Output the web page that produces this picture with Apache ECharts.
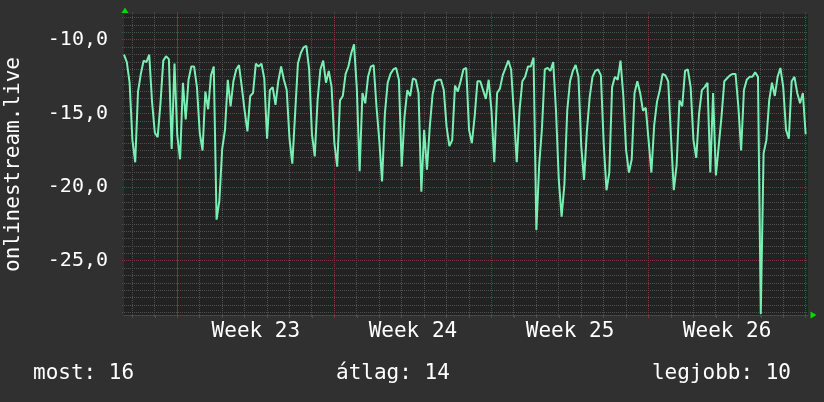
<!DOCTYPE html>
<html><head><meta charset="utf-8">
<script src="https://cdn.jsdelivr.net/npm/echarts@6/dist/echarts.min.js"></script>
<style>html,body{margin:0;padding:0;background:#303030}#c{width:824px;height:402px}</style>
</head><body><div id="c"></div>
<script>
// time axis: hours relative to Monday 00:00 of Week 23
const startHour = -57;
const stepHours = 3;
const values = [
-11.0,-11.5,-12.9,-16.8,-18.3,-13.5,-12.3,-11.4,-11.5,-11.0,
-14.2,-16.3,-16.6,-14.3,-11.4,-11.1,-11.3,-17.4,-11.6,-16.5,
-18.1,-12.9,-15.4,-12.7,-11.8,-11.8,-13.2,-16.3,-17.5,-13.5,
-14.7,-12.4,-11.8,-22.2,-20.9,-17.4,-16.1,-12.7,-14.5,-12.8,
-12.0,-11.7,-13.2,-14.8,-16.2,-13.8,-13.6,-11.6,-11.8,-11.6,
-12.6,-16.7,-13.4,-13.2,-14.4,-12.8,-11.8,-12.7,-13.4,-16.7,
-18.4,-15.0,-11.6,-10.9,-10.5,-10.4,-12.0,-16.4,-17.9,-14.1,
-12.0,-11.4,-12.9,-12.1,-13.2,-17.0,-18.6,-14.1,-13.8,-12.3,
-11.8,-10.9,-10.3,-13.3,-18.9,-13.6,-14.3,-12.5,-11.8,-11.7,
-14.5,-16.8,-19.6,-15.0,-12.9,-12.3,-12.0,-11.9,-12.7,-18.6,
-15.2,-13.4,-13.8,-12.6,-12.7,-13.6,-20.3,-16.1,-18.8,-15.9,
-13.7,-12.8,-12.7,-12.7,-13.4,-15.9,-17.2,-16.8,-13.1,-13.5,
-12.8,-12.0,-11.9,-16.1,-17.0,-15.2,-12.8,-12.8,-13.4,-14.0,
-12.7,-14.8,-18.3,-13.6,-13.3,-12.4,-11.9,-11.4,-12.0,-15.0,
-18.3,-14.8,-12.8,-12.5,-11.8,-11.8,-11.2,-22.9,-18.5,-16.0,
-12.0,-11.9,-12.1,-11.5,-14.8,-19.5,-22.0,-19.8,-14.8,-12.8,
-12.1,-11.7,-12.5,-17.2,-19.5,-16.2,-13.9,-12.5,-12.1,-12.0,
-12.4,-17.0,-20.2,-19.0,-13.2,-12.5,-12.7,-11.4,-13.8,-17.5,
-19.0,-18.1,-13.6,-12.8,-13.6,-14.8,-14.6,-16.8,-19.0,-15.8,
-14.2,-13.4,-12.3,-12.4,-12.8,-16.6,-20.2,-18.5,-14.1,-14.5,
-12.1,-12.0,-13.2,-16.8,-18.0,-15.0,-13.4,-13.2,-12.9,-19.0,
-13.6,-19.2,-17.2,-15.2,-12.8,-12.6,-12.4,-12.3,-12.3,-14.5,
-17.5,-13.4,-12.7,-12.5,-12.5,-12.2,-12.5,-28.6,-17.7,-16.8,
-14.1,-12.9,-13.8,-12.5,-11.9,-13.2,-16.1,-16.7,-12.8,-12.5,
-13.6,-14.3,-13.6,-16.4
];
const weekLabels = ['Week 23', 'Week 24', 'Week 25', 'Week 26'];
const weekLabelHours = [84, 252, 420, 588];
const weekStartHours = [0, 168, 336, 504, 672];
const yLabelTicks = [-25, -20, -15, -10];
const statLabels = ['most', 'átlag', 'legjobb'];
const statValues = [16, 14, 10];
const seriesName = 'onlinestream.live';

const xMin = -57, xMax = 674.5;
const yMin = -28.67, yMax = -8.235;

// minor grid positions (every day / every 0.5), excluding the major ones
const dayHours = [];
for (let h = -48; h <= 672; h += 24) if (weekStartHours.indexOf(h) < 0) dayHours.push(h);
const yMinorTicks = [];
for (let k = -57; k <= -17; k++) if (yLabelTicks.indexOf(k / 2) < 0) yMinorTicks.push(k / 2);

// grid line list: [orientation (0 vertical, 1 horizontal), value, major flag]
const gridLines = [].concat(
  dayHours.map(h => [0, h, 0]),
  yMinorTicks.map(v => [1, v, 0]),
  weekStartHours.map(h => [0, h, 1]),
  yLabelTicks.map(v => [1, v, 1])
);

const data = values.map((v, i) => [startHour + i * stepHours, v]);

const FONT = 'DejaVu Sans Mono';
const MINOR = '#4f4f4f';
const MAJOR = '#7a3838';
const AXIS = '#484848';

const chart = echarts.init(document.getElementById('c'), null, {renderer: 'canvas'});
const stdX = {type: 'value', min: xMin, max: xMax, gridIndex: 0, splitLine: {show: false}};
const stdY = {type: 'value', min: yMin, max: yMax, gridIndex: 0, splitLine: {show: false}};
chart.setOption({
  backgroundColor: '#303030',
  animation: false,
  textStyle: {fontFamily: FONT},
  grid: {left: 124, right: 16, top: 14, bottom: 87, show: true, backgroundColor: '#222222', borderWidth: 0,
         containLabel: false, outerBoundsMode: 'none'},
  title: [
    {text: statLabels[0] + ': ' + statValues[0], left: 33, top: 363, padding: 0,
     textStyle: {color: '#ffffff', fontSize: 21, fontWeight: 'normal', fontFamily: FONT}},
    {text: statLabels[1] + ': ' + statValues[1], left: 336, top: 363, padding: 0,
     textStyle: {color: '#ffffff', fontSize: 21, fontWeight: 'normal', fontFamily: FONT}},
    {text: statLabels[2] + ': ' + statValues[2], right: 33, top: 363, padding: 0,
     textStyle: {color: '#ffffff', fontSize: 21, fontWeight: 'normal', fontFamily: FONT}}
  ],
  xAxis: [
    Object.assign({}, stdX, {
      position: 'bottom',
      axisLine: {show: true, lineStyle: {color: AXIS, width: 1}},
      axisTick: {show: true, interval: 0, customValues: dayHours, length: 3, lineStyle: {color: MINOR}},
      axisLabel: {customValues: weekLabelHours, interval: 0, color: '#ffffff', fontSize: 21, fontFamily: FONT, margin: 6,
        formatter: v => weekLabels[weekLabelHours.indexOf(v)] || ''}
    }),
    Object.assign({}, stdX, {
      position: 'bottom',
      axisLine: {show: false},
      axisTick: {show: true, interval: 0, customValues: weekStartHours, length: 3, lineStyle: {color: MAJOR}},
      axisLabel: {show: false}
    })
  ],
  yAxis: [
    Object.assign({}, stdY, {
      position: 'left',
      name: seriesName,
      nameLocation: 'middle',
      nameRotate: 90,
      nameGap: 100,
      nameTextStyle: {color: '#ffffff', fontSize: 21, fontFamily: FONT},
      axisLine: {show: true, lineStyle: {color: AXIS, width: 1}},
      axisTick: {show: false},
      axisLabel: {customValues: yLabelTicks, interval: 0, color: '#ffffff', fontSize: 20, fontFamily: FONT, margin: 16,
        formatter: v => v.toFixed(1).replace('.', ',')}
    })
  ],
  graphic: [
    {type: 'polygon', shape: {points: [[125, 7.5], [121.5, 13], [128.5, 13]]}, style: {fill: '#00dd00'}, z: 100},
    {type: 'polygon', shape: {points: [[810.5, 311.5], [816.5, 315], [810.5, 318.5]]}, style: {fill: '#00dd00'}, z: 100}
  ],
  series: [{
    type: 'custom',
    name: 'grid',
    xAxisIndex: 0,
    yAxisIndex: 0,
    silent: true,
    clip: false,
    z: 1,
    data: gridLines,
    renderItem: (params, api) => {
      const orient = api.value(0), v = api.value(1), major = api.value(2);
      const cs = params.coordSys;
      let shape;
      if (orient === 0) {
        const x = Math.floor(api.coord([v, yMin])[0]) + 0.5;
        shape = {x1: x, y1: cs.y - 2, x2: x, y2: cs.y + cs.height + 3};
      } else {
        const y = Math.floor(api.coord([xMin, v])[1]) + 0.5;
        shape = {x1: cs.x - 2, y1: y, x2: cs.x + cs.width, y2: y};
      }
      return {type: 'line', shape: shape, silent: true,
        style: {stroke: major ? MAJOR : MINOR, lineWidth: 1, lineDash: [1, 1]}};
    }
  }, {
    name: seriesName,
    type: 'line',
    xAxisIndex: 0,
    yAxisIndex: 0,
    data: data,
    showSymbol: false,
    symbol: 'none',
    lineStyle: {color: '#78f0b4', width: 2},
    z: 10
  }]
});
</script>
</body></html>
